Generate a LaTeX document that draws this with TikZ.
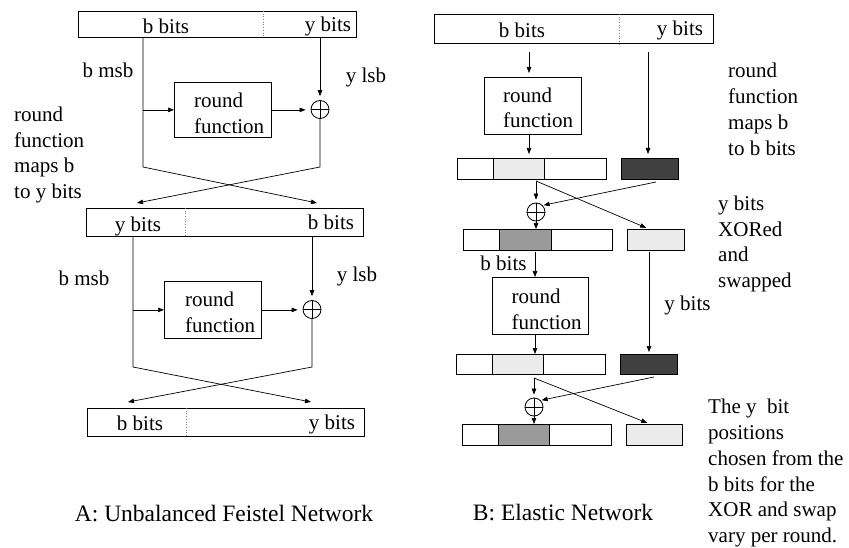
\documentclass[tikz,border=0pt]{standalone}
\usepackage{fontspec}
\setmainfont{Liberation Serif}
\usetikzlibrary{arrows.meta,calc}
\definecolor{lightcell}{HTML}{EBEBEB}
\definecolor{midcell}{HTML}{9A9A9A}
\definecolor{darkcell}{HTML}{404040}
\begin{document}
\begin{tikzpicture}[x=1pt,y=-1pt,
  font=\fontsize{21}{25.5}\selectfont,
  cell/.style={draw, line width=0.8pt, inner sep=0pt, anchor=north west},
  xorc/.style={draw, circle, line width=0.8pt, inner sep=0pt, minimum size=18pt},
  lbl/.style={inner sep=0pt, anchor=base},
  blk/.style={inner sep=0pt, anchor=north west, align=left},
  ln/.style={line width=0.7pt},
  arr/.style={ln, -{Triangle[length=6pt,width=4.5pt]}},
  divider/.style={gray, dotted, line width=0.7pt}]
\useasboundingbox (0,0) rectangle (849,548);

% ---------------- Panel A ----------------
\node[cell, minimum width=278pt, minimum height=26pt] (topA) at (78,11) {};
\node[cell, minimum width=277pt, minimum height=28pt] (boxA2) at (86,208) {};
\node[cell, minimum width=277pt, minimum height=28pt] (boxA3) at (87,408) {};
\draw[divider] ($(topA.north west)+(185,0)$) -- ($(topA.south west)+(185,0)$);
\draw[divider] ($(boxA2.north west)+(99,0)$) -- ($(boxA2.south west)+(99,0)$);
\draw[divider] ($(boxA3.north west)+(99,0)$) -- ($(boxA3.south west)+(99,0)$);
\node[lbl] (tA1b) at (166,33.5) {b bits};
\node[lbl] (tA1y) at (328,32) {y bits};
\node[lbl] (tA2y) at (138,231.5) {y bits};
\node[lbl] (tA2b) at (331,229.5) {b bits};
\node[lbl] (tA3b) at (140,430) {b bits};
\node[lbl] (tA3y) at (332,429) {y bits};

\node[cell, minimum width=97pt, minimum height=55pt] (rfA1) at (174,82) {};
\node[blk] (rfA1t) at (194,93) {round\\function};
\node[xorc] (xA1) at (320,109.5) {};
\draw[ln] (xA1.north) -- (xA1.south) (xA1.west) -- (xA1.east);
\node[lbl] (msbA1) at (108,78) {b msb};
\node[lbl] (lsbA1) at (366,82.5) {y lsb};
\node[blk] (noteA) at (14,107) {round\\function\\maps b\\to y bits};

\coordinate (a1b) at (143,167);
\coordinate (a1y) at (320,167);
\coordinate (a1t1) at (317,203);
\coordinate (a1t2) at (137,203);
\draw[arr] (topA.south -| a1b) -- (a1b) -- (a1t1);
\draw[arr] (a1b |- rfA1.west) -- (rfA1.west);
\draw[arr, shorten >=5pt] (rfA1.east) -- (rfA1.east -| xA1.west);
\draw[arr, shorten >=4pt] (topA.south -| xA1) -- (xA1.north);
\draw[arr] (xA1.south) -- (a1y) -- (a1t2);

\node[cell, minimum width=97pt, minimum height=57pt] (rfA2) at (164,281) {};
\node[blk] (rfA2t) at (185,292) {round\\function};
\node[xorc] (xA2) at (312,309.5) {};
\draw[ln] (xA2.north) -- (xA2.south) (xA2.west) -- (xA2.east);
\node[lbl] (msbA2) at (84,286) {b msb};
\node[lbl] (lsbA2) at (357,281.5) {y lsb};

\coordinate (a2b) at (133,367);
\coordinate (a2y) at (312,367);
\coordinate (a2t1) at (311,402);
\coordinate (a2t2) at (128,402);
\draw[arr] (boxA2.south -| a2b) -- (a2b) -- (a2t1);
\draw[arr] (a2b |- rfA2.west) -- (rfA2.west);
\draw[arr, shorten >=5pt] (rfA2.east) -- (rfA2.east -| xA2.west);
\draw[arr, shorten >=4pt] (boxA2.south -| xA2) -- (xA2.north);
\draw[arr] (xA2.south) -- (a2y) -- (a2t2);

\node[lbl, font=\fontsize{23.5}{28}\selectfont] (capA) at (224,521.5) {A: Unbalanced Feistel Network};

% ---------------- Panel B ----------------
\node[cell, minimum width=279pt, minimum height=29pt] (topB) at (434,14) {};
\draw[divider] ($(topB.north west)+(185,0)$) -- ($(topB.south west)+(185,0)$);
\node[lbl] (tB1b) at (522,38) {b bits};
\node[lbl] (tB1y) at (680,36) {y bits};

\node[cell, minimum width=97pt, minimum height=57pt] (rfB1) at (484,77) {};
\node[blk] (rfB1t) at (503,87.5) {round\\function};

\node[cell, minimum width=36pt, minimum height=21pt] (s11) at (457,158) {};
\node[cell, minimum width=51pt, minimum height=21pt, fill=lightcell] (s12) at (493,158) {};
\node[cell, minimum width=62pt, minimum height=21pt] (s13) at (544,158) {};
\node[cell, minimum width=57pt, minimum height=21pt, fill=darkcell] (d1) at (621,158) {};

\node[xorc] (xB1) at (536,212) {};
\draw[ln] (xB1.north) -- (xB1.south) (xB1.west) -- (xB1.east);

\node[cell, minimum width=36pt, minimum height=21pt] (s21) at (463,229) {};
\node[cell, minimum width=52pt, minimum height=21pt, fill=midcell] (s22) at (499,229) {};
\node[cell, minimum width=61pt, minimum height=21pt] (s23) at (551,229) {};
\node[cell, minimum width=57pt, minimum height=21pt, fill=lightcell] (l2) at (627,229) {};

\node[cell, minimum width=96pt, minimum height=57pt] (rfB2) at (492,277) {};
\node[blk] (rfB2t) at (511.5,289) {round\\function};

\node[cell, minimum width=36pt, minimum height=20pt] (s31) at (456,354) {};
\node[cell, minimum width=51pt, minimum height=20pt, fill=lightcell] (s32) at (492,354) {};
\node[cell, minimum width=62pt, minimum height=20pt] (s33) at (543,354) {};
\node[cell, minimum width=57pt, minimum height=20pt, fill=darkcell] (d3) at (620,354) {};

\node[xorc] (xB2) at (534,407) {};
\draw[ln] (xB2.north) -- (xB2.south) (xB2.west) -- (xB2.east);

\node[cell, minimum width=36pt, minimum height=21pt] (s41) at (462,424) {};
\node[cell, minimum width=51pt, minimum height=21pt, fill=midcell] (s42) at (498,424) {};
\node[cell, minimum width=62pt, minimum height=21pt] (s43) at (549,424) {};
\node[cell, minimum width=56pt, minimum height=21pt, fill=lightcell] (l4) at (626,424) {};

\node[lbl] (lbB) at (503.5,270.5) {b bits};
\node[lbl] (lyB) at (687.5,310.5) {y bits};

% arrows B
\coordinate (b1s) at (529,52);
\coordinate (b2s) at (648,52);
\draw[arr, shorten >=4pt] (b1s) -- (b1s |- rfB1.north);
\draw[arr, shorten >=4pt] (b1s |- rfB1.south) -- (b1s |- s12.north);
\draw[arr, shorten >=4pt] (b2s) -- (b2s |- d1.north);

\coordinate (c1) at (536,181);
\coordinate (c1t) at (649,229);
\coordinate (d1s) at (656,182);
\draw[arr, shorten >=3pt] (c1) -- (xB1.north);
\draw[arr, shorten >=3pt] (c1) -- (c1t);
\draw[arr, shorten >=1pt] (d1s) -- (xB1.north east);
\draw[arr] (xB1.south) -- (xB1.south |- s22.north);

\coordinate (b3s) at (535,252);
\coordinate (b4s) at (649,252);
\draw[arr] (b3s) -- (b3s |- rfB2.north);
\draw[arr] (b3s |- rfB2.south) -- (b3s |- s32.north);
\draw[arr, shorten >=2pt] (b4s) -- (b4s |- d3.north);

\coordinate (c2) at (534,378);
\coordinate (c2t) at (650,424);
\coordinate (d3s) at (654,377);
\draw[arr, shorten >=3pt] (c2) -- (xB2.north);
\draw[arr, shorten >=3pt] (c2) -- (c2t);
\draw[arr, shorten >=1pt] (d3s) -- (xB2.north east);
\draw[arr] (xB2.south) -- (xB2.south |- s42.north);

% notes B
\node[blk, font=\fontsize{21}{26}\selectfont] (noteB1) at (728,63) {round\\function\\maps b\\to b bits};
\node[blk, font=\fontsize{21}{25.6}\selectfont] (noteB2) at (718,195.7) {y bits\\XORed\\and\\swapped};
\node[blk, font=\fontsize{21}{25.8}\selectfont] (noteB3) at (708,399) {The y\ \ bit\\positions\\chosen from the\\b bits for the\\XOR and swap\\vary per round.};

\node[lbl, font=\fontsize{23.5}{28}\selectfont] (capB) at (563,520) {B: Elastic Network};
\end{tikzpicture}
\end{document}
